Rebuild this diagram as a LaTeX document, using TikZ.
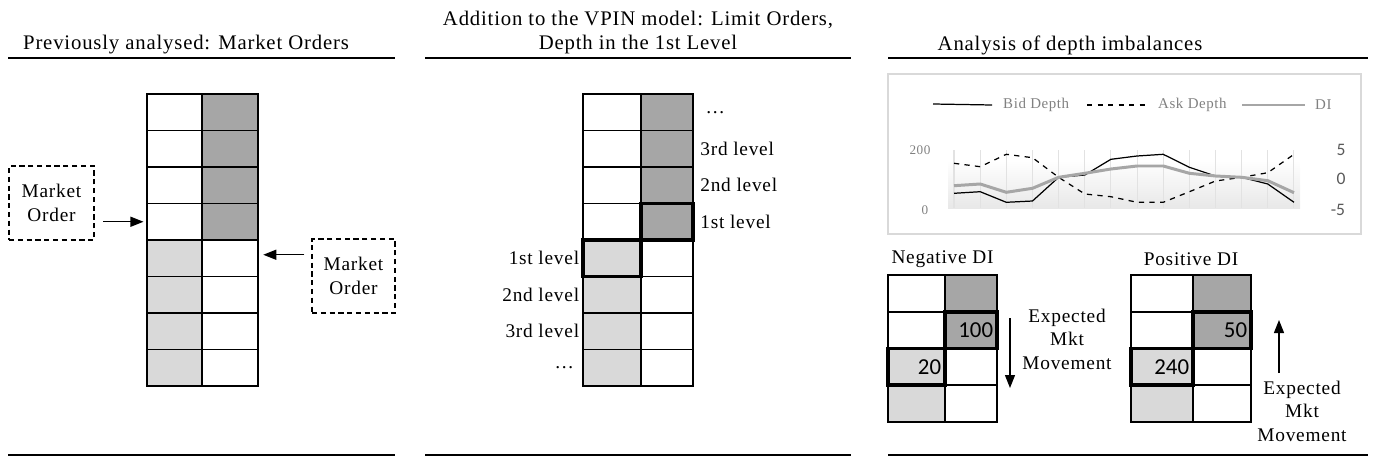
\documentclass[tikz,border=0pt]{standalone}
\usepackage{fontspec}
\setmainfont{Liberation Serif}[LetterSpace=4]
\newfontfamily\numfont{Carlito}
\usetikzlibrary{arrows.meta, positioning, fit}
\definecolor{askfill}{HTML}{A6A6A6}
\definecolor{bidfill}{HTML}{D9D9D9}
\definecolor{chartbd}{HTML}{D9D9D9}
\definecolor{legtext}{HTML}{808080}
\definecolor{axtext}{HTML}{595959}
\definecolor{gridln}{HTML}{E2E2E2}
\newcommand{\lblsize}{\fontsize{11}{13.4}\selectfont}
\tikzset{
  cell/.style={draw, line width=0.8pt, minimum height=0.73cm,
    inner sep=0pt, outer sep=0pt},
  askcell/.style={cell, fill=askfill},
  bidcell/.style={cell, fill=bidfill},
  best/.style={draw, line width=2pt, fill=none},
  orderbox/.style={draw, densely dashed, line width=0.6pt, align=center,
    minimum width=1.7cm, minimum height=1.48cm, font=\lblsize},
  lvl/.style={font=\lblsize, inner sep=1pt},
  head/.style={align=center, font=\fontsize{11.8}{14.2}\selectfont},
  rule/.style={line width=1.6pt},
  arr/.style={-{Triangle[length=2.6mm, width=2mm]}, line width=0.7pt},
  qty/.style={font=\numfont\fontsize{13}{14}\selectfont, anchor=east, inner sep=2pt},
  move/.style={align=center, font=\lblsize}
}

\begin{document}
\begin{tikzpicture}[x=0.02cm, y=-0.02cm]
  \useasboundingbox (0,0) rectangle (1373,460);

  % section headings and rules
  \node[head] (t1) at (186,45) {Previously analysed: Market Orders};
  \node[head] (t2) at (638,32.5) {Addition to the VPIN model: Limit Orders,\\Depth in the 1st Level};
  \node[head] (t3) at (1070,45) {Analysis of depth imbalances};
  \foreach \ya in {58,455} {
    \draw[rule] (8,\ya) -- (395,\ya);
    \draw[rule] (425,\ya) -- (851,\ya);
    \draw[rule] (888,\ya) -- (1368,\ya);
  }

  % market orders book
  \foreach \r in {1,...,4} {
    \node[cell, minimum width=1.1cm] (La\r) at (174.5,{94+36.5*(\r-0.5)}) {};
    \node[askcell, minimum width=1.12cm] (Lb\r) at (230,{94+36.5*(\r-0.5)}) {};
  }
  \foreach \r in {5,...,8} {
    \node[bidcell, minimum width=1.1cm] (La\r) at (174.5,{94+36.5*(\r-0.5)}) {};
    \node[cell, minimum width=1.12cm] (Lb\r) at (230,{94+36.5*(\r-0.5)}) {};
  }
  \node[orderbox] (moL) at (51.5,203) {Market\\Order};
  \node[orderbox, minimum width=1.66cm] (moR) at (353.5,276) {Market\\Order};
  \draw[arr, shorten <=5pt, shorten >=2pt] (moL.east |- La4) -- (La4.west);
  \draw[arr, shorten <=4pt, shorten >=3pt] ([yshift=2pt]moR.west |- Lb5) -- ([yshift=2pt]Lb5.east);

  % limit order book with levels
  \foreach \r in {1,...,4} {
    \node[cell, minimum width=1.16cm] (Ma\r) at (612,{94+36.5*(\r-0.5)}) {};
    \node[askcell, minimum width=1.04cm] (Mb\r) at (667,{94+36.5*(\r-0.5)}) {};
  }
  \foreach \r in {5,...,8} {
    \node[bidcell, minimum width=1.16cm] (Ma\r) at (612,{94+36.5*(\r-0.5)}) {};
    \node[cell, minimum width=1.04cm] (Mb\r) at (667,{94+36.5*(\r-0.5)}) {};
  }
  \node[best, fit=(Mb4), inner sep=0pt] {};
  \node[best, fit=(Ma5), inner sep=0pt] {};
  \node[lvl, right=6pt of Mb1] (ra1) {\dots};
  \node[lvl, right=3pt of Mb2] (ra2) {3rd level};
  \node[lvl, right=3pt of Mb3] (ra3) {2nd level};
  \node[lvl, right=3pt of Mb4] (ra4) {1st level};
  \node[lvl, left=1pt of Ma5] (lb1) {1st level};
  \node[lvl, left=1pt of Ma6] (lb2) {2nd level};
  \node[lvl, left=1pt of Ma7] (lb3) {3rd level};
  \node[lvl, left=4pt of Ma8] (lb4) {\dots};

  % depth chart
  \node[draw=chartbd, line width=0.8pt, minimum width=9.46cm, minimum height=3.2cm,
        inner sep=0pt] (chart) at (1124.5,154) {};
  \shade[top color=white, bottom color=black!9] (948,160) rectangle (1300,208);
  \foreach \i in {0,...,13}
    \draw[gridln, line width=0.6pt] ({954+26.15*\i},150) -- ({954+26.15*\i},208);
  \draw[black, line width=0.7pt] plot coordinates {(954,193.3) (980.2,191.7) (1006.3,202.3)
    (1032.5,201) (1058.6,177.3) (1084.8,175) (1110.9,159.3) (1137.1,156) (1163.2,154.3)
    (1189.4,167.3) (1215.5,176) (1241.7,177.3) (1267.8,184) (1294,202.3)};
  \draw[black, line width=0.7pt, dashed] plot coordinates {(954,163.3) (980.2,166.7) (1006.3,154.3)
    (1032.5,157.7) (1058.6,177.3) (1084.8,194) (1110.9,196.7) (1137.1,202.3) (1163.2,202.3)
    (1189.4,191.7) (1215.5,181) (1241.7,177.3) (1267.8,172.7) (1294,154.3)};
  \draw[askfill, line width=1.7pt] plot coordinates {(954,185.7) (980.2,184) (1006.3,192.3)
    (1032.5,188.3) (1058.6,177.3) (1084.8,173.3) (1110.9,169) (1137.1,166) (1163.2,166)
    (1189.4,173.3) (1215.5,176) (1241.7,177.3) (1267.8,180.7) (1294,192.7)};
  \draw[black, line width=0.7pt] (933,104) -- (992,105);
  \node[legtext, font=\fontsize{8.5}{10}\selectfont, anchor=west] at (997,105) {Bid Depth};
  \draw[black, line width=0.7pt, dashed] (1087,105) -- (1145,105);
  \node[legtext, font=\fontsize{8.5}{10}\selectfont, anchor=west] at (1152,105) {Ask Depth};
  \draw[askfill, line width=1.7pt] (1242,105) -- (1305,105);
  \node[legtext, font=\fontsize{8.5}{10}\selectfont, anchor=west] at (1309,105) {DI};
  \node[legtext, font=\fontsize{7.5}{8}\selectfont] at (920,150) {200};
  \node[legtext, font=\fontsize{7.5}{8}\selectfont] at (925,210) {0};
  \node[axtext, font=\numfont\fontsize{10}{11}\selectfont] at (1341,150) {5};
  \node[axtext, font=\numfont\fontsize{10}{11}\selectfont] at (1341,179) {0};
  \node[axtext, font=\numfont\fontsize{10}{11}\selectfont] at (1338,210) {-5};

  % negative and positive imbalance
  \foreach \g/\xa/\wa/\xb/\wb in {N/916.5/1.14cm/971/1.04cm, P/1162/1.24cm/1222/1.16cm} {
    \foreach \r in {1,2} {
      \node[cell, minimum width=\wa] (\g a\r) at (\xa,{275+36.75*(\r-0.5)}) {};
      \node[askcell, minimum width=\wb] (\g b\r) at (\xb,{275+36.75*(\r-0.5)}) {};
    }
    \foreach \r in {3,4} {
      \node[bidcell, minimum width=\wa] (\g a\r) at (\xa,{275+36.75*(\r-0.5)}) {};
      \node[cell, minimum width=\wb] (\g b\r) at (\xb,{275+36.75*(\r-0.5)}) {};
    }
    \node[best, fit=(\g b2), inner sep=0pt] {};
    \node[best, fit=(\g a3), inner sep=0pt] {};
  }
  \node[lvl] (negt) at (942.5,259) {Negative DI};
  \node[lvl] (post) at (1191,259) {Positive DI};
  \node[qty] at (Nb2.east) {100};
  \node[qty] at (Na3.east) {20};
  \node[qty] at (Pb2.east) {50};
  \node[qty] at (Pa3.east) {240};

  \coordinate (dnS) at (1010,318);
  \coordinate (dnE) at (1010,388);
  \draw[arr] (dnS) -- (dnE);
  \node[move] (negm) at (1067,339) {Expected\\Mkt\\Movement};
  \coordinate (upS) at (1279,373);
  \coordinate (upE) at (1279,320);
  \draw[arr] (upS) -- (upE);
  \node[move] (posm) at (1302,411) {Expected\\Mkt\\Movement};
\end{tikzpicture}
\end{document}
